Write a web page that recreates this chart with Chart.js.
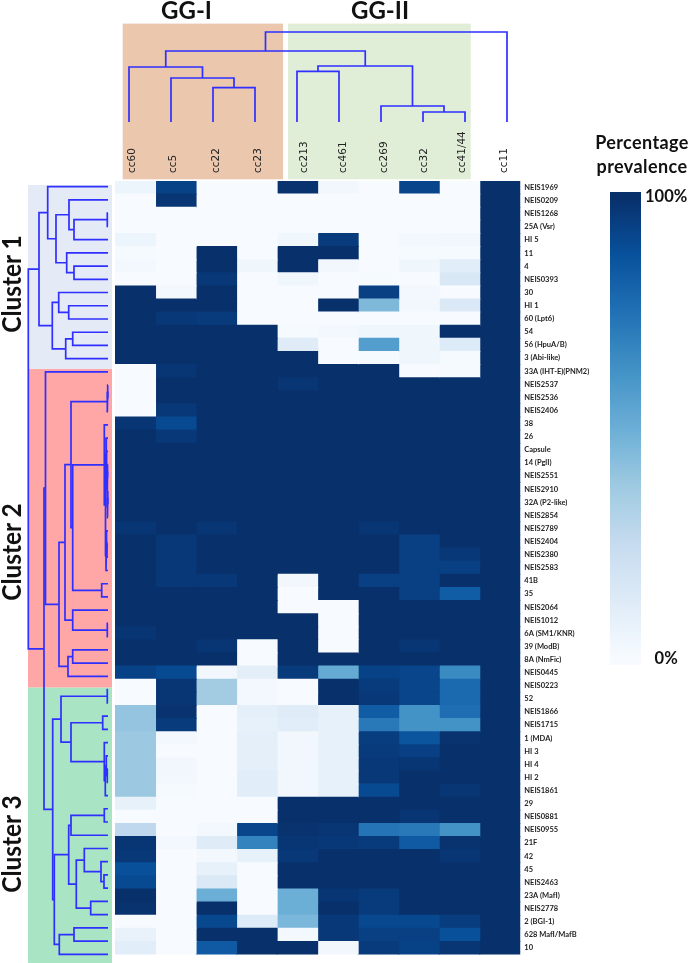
<!DOCTYPE html>
<html><head><meta charset="utf-8">
<style>
html,body{margin:0;padding:0;background:#fff;width:689px;height:963px;overflow:hidden}
canvas{position:absolute;left:0;top:0}
.t{position:absolute;font-family:Lato,sans-serif;font-weight:700;color:#111;white-space:nowrap;line-height:1}
.r{transform:translate(-50%,-50%) rotate(-90deg) scaleX(.94)}
.c{transform:translate(-50%,-50%)}
</style>
<script src="https://cdn.jsdelivr.net/npm/chart.js@4"></script>
</head><body>
<canvas id="top" width="689" height="963"></canvas>
<canvas id="left" width="689" height="963"></canvas>
<canvas id="heat" width="689" height="963"></canvas>
<canvas id="bar" width="689" height="963"></canvas>
<div class="t c" style="left:186.5px;top:10px;font-size:24px">GG-I</div>
<div class="t c" style="left:380px;top:10px;font-size:24px">GG-II</div>
<div class="t r" style="left:11px;top:284px;font-size:26px">Cluster 1</div>
<div class="t r" style="left:11px;top:552px;font-size:26px">Cluster 2</div>
<div class="t r" style="left:11px;top:844px;font-size:26px">Cluster 3</div>
<div class="t c" style="left:642px;top:142px;font-size:18px;letter-spacing:.4px">Percentage</div>
<div class="t c" style="left:642px;top:166px;font-size:18px;letter-spacing:.4px">prevalence</div>
<script>
const rowNames = ["NEIS1969","NEIS0209","NEIS1268","25A (Vsr)","HI 5","11","4","NEIS0393","30","HI 1",
"60 (Lpt6)","54","56 (HpuA/B)","3 (Abi-like)","33A (IHT-E)(PNM2)","NEIS2537","NEIS2536","NEIS2406","38","26",
"Capsule","14 (PglI)","NEIS2551","NEIS2910","32A (P2-like)","NEIS2854","NEIS2789","NEIS2404","NEIS2380","NEIS2583",
"41B","35","NEIS2064","NEIS1012","6A (SM1/KNR)","39 (ModB)","8A (NmFic)","NEIS0445","NEIS0223","52",
"NEIS1866","NEIS1715","1 (MDA)","HI 3","HI 4","HI 2","NEIS1861","29","NEIS0881","NEIS0955",
"21F","42","45","NEIS2463","23A (MafI)","NEIS2778","2 (BGI-1)","628 MafI/MafB","10"];
const ccNames = ["cc60","cc5","cc22","cc23","cc213","cc461","cc269","cc32","cc41/44","cc11"];

// Percentage prevalence, one array per clonal complex, top row first
const cc60 = [5,0,0,0,5,1,2,0,100,100, 100,100,100,100,0,0,0,0,98,100, 100,100,100,100,100,100,98,100,100,100, 100,100,100,100,98,100,100,93,0,0, 40,40,38,38,38,38,38,8,0,27, 98,97,88,90,100,99,0,7,11];
const cc5 = [93,98,0,0,0,0,0,0,2,100, 97,100,100,100,98,100,100,97,90,97, 100,100,100,100,100,100,100,97,97,97, 97,100,100,100,100,100,100,90,98,98, 99,96,2,0,3,3,1,0,0,0, 2,0,0,0,0,0,0,0,0];
const cc22 = [0,0,0,0,0,100,100,97,100,100, 96,100,100,100,100,100,100,100,100,100, 100,100,100,100,100,100,98,100,100,100, 97,100,100,100,100,98,100,3,36,36, 0,0,0,0,0,0,0,0,0,2, 12,2,8,14,50,100,91,100,84];
const cc23 = [0,0,0,0,0,0,4,0,0,0, 0,100,100,100,100,100,100,100,100,100, 100,100,100,100,100,100,100,100,100,100, 100,100,100,100,100,0,0,10,2,2, 9,8,9,9,9,11,11,0,0,92, 68,8,0,0,0,0,13,100,100];
const cc213 = [99,0,0,0,4,100,100,4,0,0, 0,1,12,100,100,98,100,100,100,100, 100,100,100,100,100,100,100,100,100,100, 3,0,0,100,100,100,100,96,0,0, 12,11,3,3,3,3,3,100,100,99, 98,97,100,100,50,50,46,2,100];
const cc461 = [3,0,0,0,96,100,3,0,0,100, 0,2,0,0,100,100,100,100,100,100, 100,100,100,100,100,100,100,100,100,100, 100,100,0,0,0,0,100,52,100,100, 8,8,8,8,8,8,8,100,100,98, 97,100,100,100,98,100,97,97,3];
const cc269 = [0,0,0,0,0,0,0,1,94,45, 0,4,57,1,100,100,100,100,100,100, 100,100,100,100,100,100,98,100,100,100, 94,100,100,100,100,100,100,93,96,97, 83,72,95,96,97,97,90,100,100,74, 96,100,100,100,96,96,91,94,96];
const cc32 = [92,0,0,0,2,1,4,0,2,3, 0,4,4,4,0,100,100,100,100,100, 100,100,100,100,100,100,100,94,94,94, 94,94,100,100,100,98,100,92,92,92, 62,62,86,94,98,100,100,100,98,72, 84,100,100,100,100,100,91,94,93];
const cc41_44 = [0,0,0,0,3,1,11,15,0,14, 0,100,13,1,1,100,100,100,100,100, 100,100,100,100,100,100,100,100,97,94, 100,83,100,100,100,100,100,65,78,78, 76,62,99,100,100,100,98,100,100,62, 99,98,100,100,100,100,95,88,98];
const cc11 = [100,100,100,100,100,100,100,100,100,100, 100,100,100,100,100,100,100,100,100,100, 100,100,100,100,100,100,100,100,100,100, 100,100,100,100,100,100,100,100,100,100, 100,100,100,100,100,100,100,100,100,100, 100,100,100,100,100,100,100,100,100];
const ccValues = [cc60,cc5,cc22,cc23,cc213,cc461,cc269,cc32,cc41_44,cc11];

// Where each complex name sits along the column scale
const ccLabelAt = [0.4,1.4,2.46,3.5,4.63,5.6,6.6,7.6,8.53,9.57];

// Dendrograms: a number is a leaf (row or column index); [height, left, right] is a merge
const colTree = [90,[71,[55,0,[44,1,[34.4,2,3]]],[56,[50.7,4,5],[16,6,[10,7,8]]]],9];
const cluster1Tree = [69,[60.3,0,[52,[39,1,[34,[0.7,2,3],4]],[41.3,5,[34,6,7]]]],[55.7,[49.3,8,[39.3,9,10]],[42.3,[35.3,11,12],13]]];
const tightLeft = [2,19,[1.5,20,[1,[0.5,21,22],[0.5,[0.3,23,24],25]]]];
const tightRight = [2,[1.5,26,[1,27,28]],29];
const cluster2Tree = [62.5,14,[49,[43,[37,[0.7,[0.3,15,16],17],[35.3,[3.7,18,[2.5,tightLeft,tightRight]],[6.3,30,31]]],[35.3,32,[0.7,33,34]]],[40,[35.3,35,36],37]]];
const cluster3Top = [47,[0.7,38,39],[37,[5.3,40,41],[3.7,42,[2.7,[1.7,43,[0.7,44,45]],46]]]];
const cluster3Bottom = [53.7,[39.3,[37,[3.7,47,48],49],[31.7,[23.7,50,[7,51,[4,52,53]]],[17.3,54,55]]],[48.7,[34,56,57],58]];
const rowTree = [79.7,cluster1Tree,[64,cluster2Tree,[55.3,cluster3Top,cluster3Bottom]]];

// Background spans in scale units
const clusterSpans = [[-0.12,13.78],[13.78,37.85],[37.85,58.65]];
const groupSpans = [[-0.15,3.667],[3.786,8.136]];

// Colour ramp, low to high
const ramp = ["#f7fbff","#deebf7","#c6dbef","#9ecae1","#6baed6","#4292c6","#2171b5","#08519c","#08306b"];
function hex(c){return [1,3,5].map(i=>parseInt(c.substr(i,2),16));}
function shade(v){
  const p=Math.max(0,Math.min(100,v))/100*(ramp.length-1), i=Math.min(ramp.length-2,Math.floor(p)), f=p-i;
  const a=hex(ramp[i]),b=hex(ramp[i+1]);
  return 'rgb('+a.map((x,k)=>Math.round(x+(b[k]-x)*f)).join(',')+')';
}
const BLUE='#2f2fff';
function links(tree){
  const out=[];
  (function walk(n){
    if(typeof n==='number') return {p:n,h:0};
    const a=walk(n[1]),b=walk(n[2]);
    out.push([[a.h,a.p],[n[0],a.p],[n[0],b.p],[b.h,b.p]]);
    return {p:(a.p+b.p)/2,h:n[0]};
  })(tree);
  return out;
}
const base={responsive:false,animation:false,events:[],plugins:{legend:{display:false},tooltip:{enabled:false},title:{display:false}}};
Chart.defaults.font.family='Lato, sans-serif';

// Top dendrogram
const shadeTop={id:'shadeTop',beforeDatasetsDraw(c){
  const {x,y}=c.scales,ctx=c.ctx,cols=['#ebc7ae','#e0eed8'];
  groupSpans.forEach((s,i)=>{ctx.fillStyle=cols[i];
    const t=y.getPixelForValue(98.4),b=y.getPixelForValue(-57.3),l=x.getPixelForValue(s[0]),r=x.getPixelForValue(s[1]);
    ctx.fillRect(l,t,r-l,b-t);});
}};
new Chart(document.getElementById('top'),{type:'scatter',plugins:[shadeTop],
  data:{datasets:links(colTree).map(l=>({data:l.map(q=>({x:q[1],y:q[0]})),showLine:true,pointRadius:0,borderColor:BLUE,borderWidth:1.7,clip:false,tension:0}))},
  options:{...base,layout:{padding:{left:108,right:161,top:22,bottom:841}},
    scales:{x:{type:'linear',display:false,min:-0.5,max:9.5},y:{type:'linear',display:false,min:0,max:100}}}});

// Left dendrogram
const shadeLeft={id:'shadeLeft',beforeDatasetsDraw(c){
  const {x,y}=c.scales,ctx=c.ctx,cols=['#e4ebf6','#ffa6a6','#a9e5c4'];
  clusterSpans.forEach((s,i)=>{ctx.fillStyle=cols[i];
    const t=y.getPixelForValue(s[0]),b=y.getPixelForValue(s[1]),l=x.getPixelForValue(80),r=x.getPixelForValue(-4);
    ctx.fillRect(l,t,r-l,b-t);});
}};
new Chart(document.getElementById('left'),{type:'scatter',plugins:[shadeLeft],
  data:{datasets:links(rowTree).map(l=>({data:l.map(q=>({x:q[0],y:q[1]})),showLine:true,pointRadius:0,borderColor:BLUE,borderWidth:1.7,clip:false,tension:0}))},
  options:{...base,layout:{padding:{left:28,right:577,top:180,bottom:2}},
    scales:{x:{type:'linear',display:false,reverse:true,min:-4,max:80},y:{type:'linear',display:false,reverse:true,min:-0.5,max:58.5}}}});

// Heatmap
new Chart(document.getElementById('heat'),{type:'bar',
  data:{labels:rowNames,datasets:ccNames.map((n,c)=>({label:n,grouped:false,barPercentage:1,categoryPercentage:1,borderWidth:0,inflateAmount:0.5,
    data:ccValues[c].map((v,r)=>({x:[c,c+1],y:rowNames[r],v:v})),
    backgroundColor:ctx=>shade(ctx.raw?ctx.raw.v:0)}))},
  options:{...base,indexAxis:'y',layout:{padding:{left:115,right:1,top:111,bottom:1}},
    scales:{
      x:{type:'linear',position:'top',min:0,max:10,grid:{display:false,drawTicks:false},border:{display:false},
        afterBuildTicks(s){s.ticks=ccLabelAt.map(v=>({value:v}));},
        afterFit(s){s.height=70;},
        ticks:{autoSkip:false,minRotation:90,maxRotation:90,padding:8,labelOffset:14,color:'#222',font:{family:'DejaVu Sans',size:10.5},callback:(v,i)=>ccNames[i]}},
      y:{type:'category',position:'right',grid:{display:false,drawTicks:false},border:{display:false},
        afterFit(s){s.width=167.7;},
        ticks:{autoSkip:false,padding:4,color:'#222',font:{family:'Lato',size:7.5,weight:'700'}}}
    }}});

// Colour bar
const barSpan=[-1.3,101.1];
new Chart(document.getElementById('bar'),{type:'bar',
  data:{labels:['Percentage prevalence'],datasets:[{data:[barSpan],barPercentage:1,categoryPercentage:1,borderWidth:0,
    backgroundColor(ctx){
      const c=ctx.chart; if(!c.chartArea) return ramp[8];
      const g=c.ctx.createLinearGradient(0,c.scales.y.getPixelForValue(0),0,c.scales.y.getPixelForValue(100));
      ramp.forEach((col,i)=>g.addColorStop(i/(ramp.length-1),col));
      return g;
    }}]},
  options:{...base,layout:{padding:{left:610,right:0,top:192,bottom:298}},
    scales:{
      x:{display:false},
      y:{type:'linear',position:'right',min:barSpan[0],max:barSpan[1],grid:{display:false,drawTicks:false},border:{display:false},
        afterBuildTicks(s){s.ticks=[{value:0},{value:100}];},
        afterFit(s){s.width=48;},
        ticks:{padding:4,crossAlign:'center',color:'#111',font:{family:'Lato',size:16.5,weight:'700'},callback:v=>v+'%'}}
    }}});
</script>
</body></html>
